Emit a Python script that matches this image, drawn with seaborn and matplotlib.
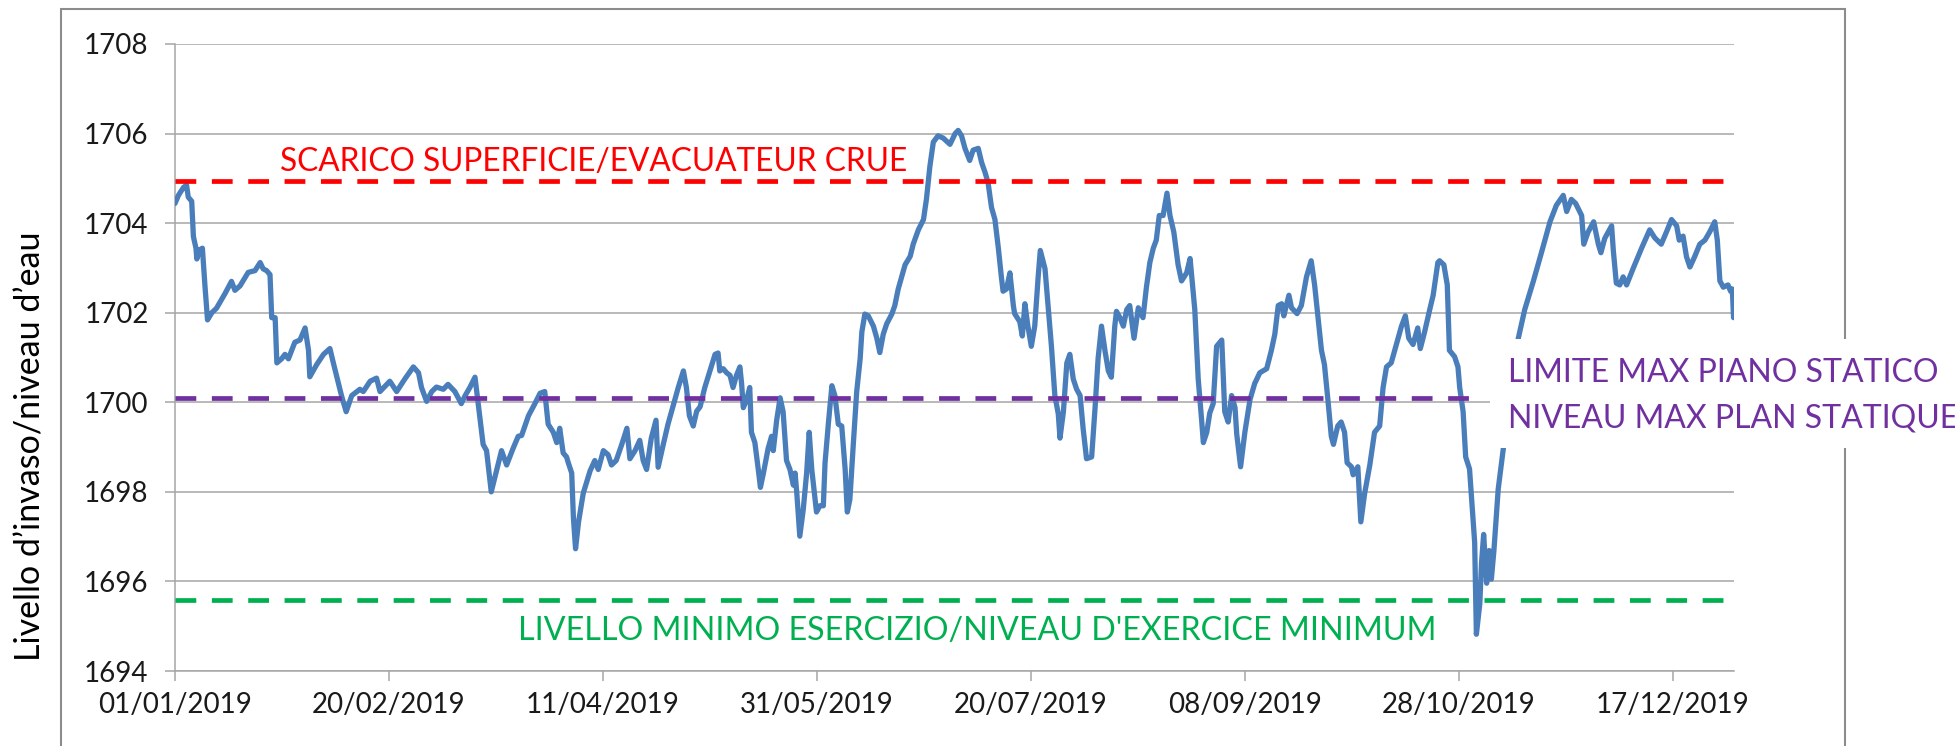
import matplotlib
matplotlib.use("Agg")
import matplotlib.pyplot as plt
from matplotlib.patches import Rectangle
import seaborn as sns
import pandas as pd

# reservoir level, day 0 = 01/01/2019
day = [0, 0.8, 2, 2.7, 3.1, 3.9, 4.3, 4.9, 5.1, 5.7, 6.4, 7.0, 7.6, 8.6, 9.7, 11.7, 13.2, 14.0, 15.2, 17.1,
       18.7, 19.9, 20.6, 21.4, 22.2, 22.6, 23.4, 23.8, 24.9, 25.7, 26.5, 28.0, 29.2, 30.4, 31.2, 31.5, 33.1,
       34.7, 36.2, 37.0, 38.2, 38.9, 40.0, 41.3, 43.2, 44.0, 45.6, 47.1, 47.9, 50.2, 51.8, 53.7, 55.7, 56.9,
       57.6, 58.8, 60.0,
       61.1, 62.7, 63.8, 65.4, 66.9, 67.8, 68.9, 70.1, 70.5, 71.3, 72.0, 72.8, 73.5, 73.9, 75.2, 76.3, 77.5,
       79.0, 80.2, 81.0, 82.6, 84.1, 85.3, 86.4, 87.2, 88.4, 89.2, 89.9, 90.7, 91.5, 91.9, 92.7, 93.1, 93.6,
       94.3, 95.4, 97.0, 98.1, 98.9, 100.1, 101.2, 102.0, 103.1, 104.4, 105.6, 106.3, 107.5, 108.6, 109.4,
       110.2, 111.3, 112.4, 112.9, 114.1, 115.2, 116.4, 117.6, 118.8, 119.5, 120.2,
       121.1, 121.9, 122.7, 123.8, 125.0, 126.2, 126.9, 127.3, 128.1, 128.9, 129.7, 130.4, 131.2, 132.0,
       132.4, 132.8, 133.6, 134.3, 134.7, 135.5, 136.3, 136.8, 137.5, 138.6, 139.4, 139.8, 140.6, 141.4,
       142.1, 142.9, 143.7, 144.5, 144.9, 145.3, 146.0, 146.8, 147.6, 148.2, 148.8, 149.2, 149.9, 150.7,
       151.5, 151.9, 152.7, 153.5, 154.2, 155.0, 155.8, 156.6, 157.1, 157.7, 158.5, 159.3, 160.1, 160.5,
       161.2, 162.0, 163.2, 164.0, 164.7, 165.5, 166.3, 167.5, 168.2, 169.0, 169.8, 170.6, 171.8, 172.5,
       173.7, 174.9, 175.6, 176.4, 177.2, 178.3, 179.5, 181.1, 182.3,
       183.0, 183.8, 184.6, 185.7, 186.5, 187.7, 188.5, 189.3, 190.0, 190.8, 191.6, 192.4, 193.1, 193.5,
       194.3, 195.1, 195.9, 196.2, 197.4, 198.0, 198.6, 199.3, 200.1, 200.9, 201.7, 202.2, 203.3, 204.0,
       204.8, 205.6, 206.4, 206.8, 207.6, 208.4, 209.1, 209.9, 210.7, 211.5, 212.2, 213.0, 214.2, 215.0,
       215.7, 216.5, 217.3, 218.1, 218.8, 219.6, 220.0, 220.8, 221.6, 222.4, 223.1, 224.1, 225.1, 226.2,
       227.0, 227.8, 228.6, 229.3, 230.0, 230.9, 231.8, 232.5, 233.4, 234.4, 235.2, 236.4, 237.2, 238.3,
       239.1, 239.9, 240.3, 241.1, 241.8,
       242.6, 243.4, 244.6, 245.3, 246.1, 246.9, 247.7, 248.1, 249.0, 250.0, 251.2, 252.3, 253.5, 255.1,
       256.2, 257.0, 257.8, 258.6, 259.1, 260.3, 260.9, 262.2, 263.2, 264.4, 265.5, 266.3, 267.1, 267.9,
       268.6, 269.4, 270.2, 270.7, 271.7, 272.5, 273.3, 273.9, 274.9, 275.3, 276.4, 277.1, 278.0, 279.2,
       280.3, 281.5, 282.3, 283.1, 284.2, 285.4, 286.6, 287.5, 288.3, 289.3, 290.4, 291.0, 292.0, 293.2,
       294.0, 295.1, 295.5, 296.5, 297.3, 297.8, 299.0, 299.8, 300.2, 301.0, 301.6, 302.5, 303.3, 303.7,
       304.1, 304.9, 305.3, 305.8, 306.5, 307.1, 307.6, 308.2, 309.2, 310.4, 313.9, 315.4, 317.4, 319.3,
       321.3, 322.8, 324.4, 325.2, 326.3, 327.3, 328.7, 329.2, 330.2, 331.5, 332.6, 333.2, 334.1, 335.7,
       336.1, 336.8, 337.6, 338.4, 339.2, 340.7, 342.7, 344.6, 345.8, 347.3, 348.5, 349.7, 350.9, 351.5,
       352.4, 353.2, 354.0, 355.1, 356.3, 357.5, 358.6, 359.8, 360.4, 361.0, 361.8, 362.9, 363.5, 363.9,
       364.2]
level = [1704.44, 1704.62, 1704.80, 1704.85, 1704.58, 1704.49, 1703.70, 1703.44, 1703.20, 1703.40, 1703.44,
         1702.60, 1701.84, 1702.00, 1702.10, 1702.43, 1702.70, 1702.50, 1702.60, 1702.90, 1702.94, 1703.12,
         1702.98, 1702.94, 1702.85, 1701.89, 1701.89, 1700.88, 1700.97, 1701.07, 1700.97, 1701.34, 1701.39,
         1701.66, 1701.16, 1700.57, 1700.84, 1701.07, 1701.20, 1700.88, 1700.42, 1700.15, 1699.79, 1700.15,
         1700.29, 1700.24, 1700.47, 1700.54, 1700.24, 1700.47, 1700.24, 1700.52, 1700.79, 1700.66, 1700.33,
         1700.02, 1700.24,
         1700.34, 1700.29, 1700.40, 1700.24, 1699.97, 1700.15, 1700.33, 1700.56, 1700.24, 1699.60, 1699.06,
         1698.92, 1698.33, 1698.00, 1698.50, 1698.92, 1698.60, 1698.97, 1699.24, 1699.26, 1699.70, 1699.97,
         1700.20, 1700.24, 1699.51, 1699.33, 1699.10, 1699.42, 1698.87, 1698.78, 1698.65, 1698.42, 1697.42,
         1696.73, 1697.33, 1697.97, 1698.47, 1698.70, 1698.50, 1698.92, 1698.83, 1698.60, 1698.70, 1699.06,
         1699.42, 1698.74, 1698.92, 1699.15, 1698.70, 1698.50, 1699.20, 1699.60, 1698.55, 1699.06, 1699.51,
         1699.92, 1700.33, 1700.70, 1700.33, 1699.70,
         1699.47, 1699.80, 1699.90, 1700.33, 1700.70, 1701.07, 1701.10, 1700.70, 1700.75, 1700.66, 1700.60,
         1700.33, 1700.60, 1700.79, 1700.42, 1699.88, 1700.06, 1700.33, 1699.33, 1699.10, 1698.50, 1698.10,
         1698.42, 1698.97, 1699.24, 1698.92, 1699.60, 1700.10, 1699.79, 1698.70, 1698.50, 1698.15, 1698.42,
         1697.97, 1697.01, 1697.60, 1698.42, 1699.33, 1698.50, 1698.15, 1697.55, 1697.69, 1697.69, 1698.65,
         1699.55, 1700.37, 1700.15, 1699.51, 1699.47, 1698.50, 1697.55, 1697.83, 1699.06, 1700.24, 1700.97,
         1701.57, 1701.97, 1701.93, 1701.70, 1701.43, 1701.11, 1701.52, 1701.75, 1701.97, 1702.16, 1702.53,
         1702.80, 1703.07, 1703.26, 1703.53, 1703.85, 1704.08, 1704.54, 1705.27, 1705.81, 1705.95, 1705.90,
         1705.76, 1706.00,
         1706.07, 1705.95, 1705.67, 1705.40, 1705.63, 1705.67, 1705.35, 1705.13, 1704.90, 1704.35, 1704.08,
         1703.44, 1702.80, 1702.48, 1702.53, 1702.89, 1702.16, 1701.98, 1701.80, 1701.48, 1702.20, 1701.70,
         1701.25, 1701.70, 1702.80, 1703.39, 1702.98, 1702.16, 1701.25, 1700.15, 1699.74, 1699.20, 1699.79,
         1700.88, 1701.07, 1700.52, 1700.29, 1700.15, 1699.42, 1698.74, 1698.78, 1699.88, 1700.97, 1701.70,
         1701.16, 1700.70, 1700.56, 1701.70, 1702.03, 1701.89, 1701.70, 1702.07, 1702.16, 1701.43, 1702.11,
         1701.89, 1702.57, 1703.12, 1703.44, 1703.62, 1704.17, 1704.17, 1704.67, 1704.17, 1703.80, 1703.07,
         1702.71, 1702.89, 1703.21, 1702.07, 1700.52, 1699.60, 1699.10, 1699.33, 1699.76,
         1699.97, 1701.25, 1701.39, 1699.79, 1699.56, 1700.15, 1699.88, 1699.29, 1698.56, 1699.33, 1700.06,
         1700.42, 1700.66, 1700.75, 1701.16, 1701.52, 1702.16, 1702.20, 1701.93, 1702.39, 1702.11, 1701.98,
         1702.16, 1702.80, 1703.16, 1702.62, 1701.89, 1701.16, 1700.84, 1700.06, 1699.24, 1699.06, 1699.47,
         1699.56, 1699.33, 1698.65, 1698.56, 1698.38, 1698.56, 1697.33, 1697.97, 1698.60, 1699.33, 1699.47,
         1700.33, 1700.79, 1700.88, 1701.29, 1701.70, 1701.93, 1701.43, 1701.29, 1701.66, 1701.20, 1701.57,
         1702.07, 1702.39, 1703.12, 1703.16, 1703.07, 1702.62, 1701.16, 1701.02, 1700.79, 1700.33, 1699.79,
         1698.78, 1698.51, 1697.42, 1696.87,
         1694.82, 1695.50, 1696.41, 1697.05, 1695.96, 1696.69, 1696.05, 1696.69, 1698.06, 1698.97, 1701.43,
         1702.07, 1702.70, 1703.34, 1704.03, 1704.40, 1704.62, 1704.26, 1704.53, 1704.44, 1704.17, 1703.53,
         1703.80, 1704.03, 1703.53, 1703.34, 1703.66, 1703.94, 1703.39, 1702.66, 1702.62, 1702.80, 1702.62,
         1702.98, 1703.44, 1703.85, 1703.67, 1703.53, 1703.80, 1704.08, 1703.94, 1703.62, 1703.71, 1703.25,
         1703.02, 1703.25, 1703.53, 1703.62, 1703.80, 1704.03, 1703.62, 1702.71, 1702.57, 1702.62, 1702.48,
         1702.53, 1701.89]

# reference levels
spillway = 1704.93       # scarico superficie
static_max = 1700.1      # limite max piano statico
static_end_day = 304     # the purple line stops at the end of october
min_level = 1695.58      # livello minimo esercizio

tick_labels = ["01/01/2019", "20/02/2019", "11/04/2019", "31/05/2019",
               "20/07/2019", "08/09/2019", "28/10/2019", "17/12/2019"]
y_ticks = [1694, 1696, 1698, 1700, 1702, 1704, 1706, 1708]

start = pd.Timestamp("2019-01-01")
df = pd.DataFrame({"date": start + pd.to_timedelta(day, unit="D"), "level": level})

sns.set_style("white")
plt.rcParams["font.family"] = ["Lato", "DejaVu Sans"]

W, H = 1955, 746
fig = plt.figure(figsize=(W / 100, H / 100), dpi=100)
ax = fig.add_axes([175 / W, 1 - 671 / H, (1734 - 175) / W, (671 - 44) / H])

grey = "#A6A6A6"
sns.lineplot(data=df, x="date", y="level", ax=ax, color="#4A7EBB", linewidth=3.8,
             sort=False, estimator=None, zorder=3)
ax.lines[0].set_solid_joinstyle("round")
ax.lines[0].set_solid_capstyle("round")

dash = (0, (4.4, 3.3))
ax.axhline(spillway, color="#FF0000", lw=3.4, linestyle=dash, zorder=4)
ax.hlines(static_max, start, start + pd.Timedelta(days=static_end_day),
          color="#7030A0", lw=3.4, linestyle=dash, zorder=4)
ax.axhline(min_level, color="#00B050", lw=3.4, linestyle=dash, zorder=4)

ax.set_ylim(1694, 1708)
ax.set_xlim(start, start + pd.Timedelta(days=364.3))
ax.set_yticks(y_ticks)
ax.set_xticks(pd.to_datetime(tick_labels, format="%d/%m/%Y"))
ax.set_xticklabels(tick_labels)
ax.set_xlabel("")
ax.set_ylabel("")
ax.yaxis.grid(True, color=grey, lw=1.1)
ax.set_axisbelow(True)

for s in ["top", "right"]:
    ax.spines[s].set_visible(False)
for s in ["left", "bottom"]:
    ax.spines[s].set_color(grey)
    ax.spines[s].set_linewidth(1.1)
ax.tick_params(axis="both", direction="out", length=7, width=1.1, color=grey,
               labelsize=20, labelcolor="#1A1A1A")
ax.tick_params(axis="y", pad=12, left=True)
ax.tick_params(axis="x", pad=8, bottom=True)

ax.text(start + pd.Timedelta(days=24.5), 1705.16, "SCARICO SUPERFICIE/EVACUATEUR CRUE",
        color="#FF0000", fontsize=22.8, va="baseline", ha="left")
ax.text(start + pd.Timedelta(days=80.1), 1694.70,
        "LIVELLO MINIMO ESERCIZIO/NIVEAU D'EXERCICE MINIMUM",
        color="#00B050", fontsize=23.2, va="baseline", ha="left")

# outer chart frame, broken on the right by the white label box
fig.add_artist(Rectangle((61 / W, -0.05), (1845 - 61) / W, (H - 9.5) / H + 0.05,
                         transform=fig.transFigure, fill=False, edgecolor="#8C8C8C",
                         lw=1.5, zorder=1))
fig.add_artist(Rectangle((1490 / W, 1 - 448 / H), (W - 1490) / W, 109 / H,
                         transform=fig.transFigure, facecolor="white", edgecolor="none",
                         zorder=2))
fig.text(1508 / W, 1 - 382 / H, "LIMITE MAX PIANO STATICO", color="#7030A0",
         fontsize=23, va="baseline", ha="left", zorder=3)
fig.text(1508 / W, 1 - 427 / H, "NIVEAU MAX PLAN STATIQUE", color="#7030A0",
         fontsize=23, va="baseline", ha="left", zorder=3)

fig.text(31 / W, 1 - 446 / H, "Livello d\u2019invaso/niveau d\u2019eau", rotation=90,
         fontsize=24.5, va="center", ha="center", color="black")

fig.savefig("out.png", dpi=100)
